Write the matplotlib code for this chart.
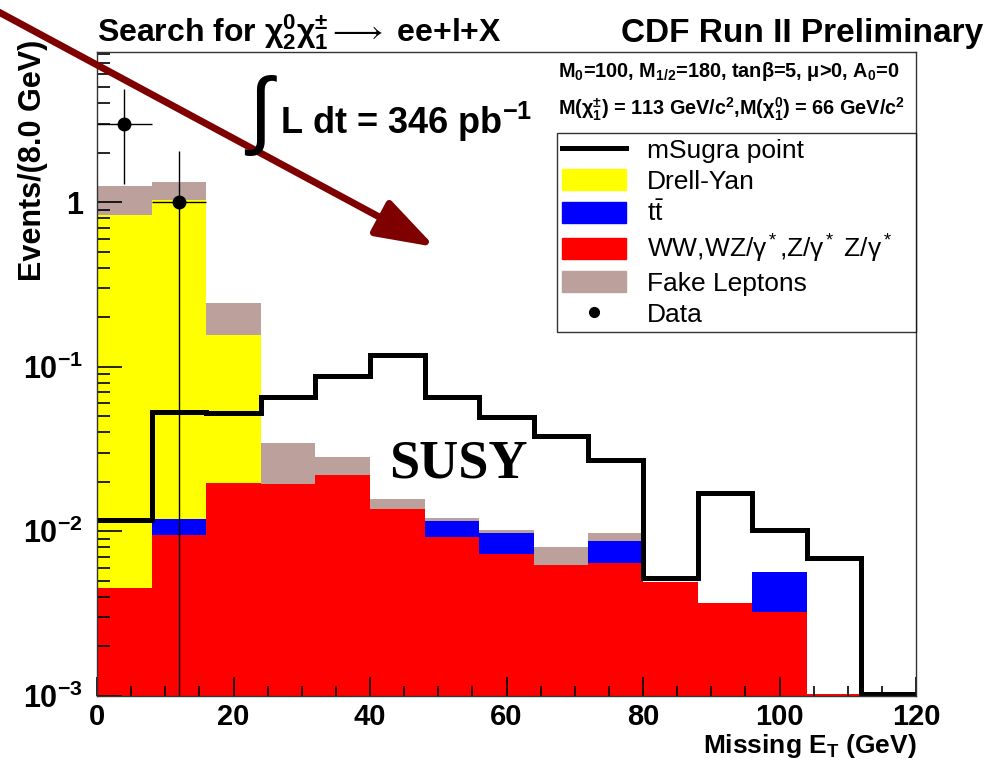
import numpy as np
import matplotlib
matplotlib.use("Agg")
import matplotlib.pyplot as plt
from matplotlib.lines import Line2D
from matplotlib.patches import Patch

plt.rcParams['font.family'] = ['Liberation Sans', 'DejaVu Sans']
plt.rcParams['mathtext.fontset'] = 'custom'
plt.rcParams['mathtext.rm'] = 'Liberation Sans'
plt.rcParams['mathtext.it'] = 'Liberation Serif:italic'
plt.rcParams['mathtext.bf'] = 'Liberation Sans:bold'
plt.rcParams['mathtext.default'] = 'regular'

# binning: 15 bins of 8 GeV
edges = np.arange(0, 121, 8)

# backgrounds (per bin, stacked bottom -> top)
ww_wz = [0.0045, 0.0095, 0.0197, 0.0193, 0.022, 0.0136, 0.0092, 0.0073,
         0.0062, 0.0064, 0.0049, 0.00365, 0.00323, 0.00102, 0]
ttbar = [0, 0.0023, 0, 0, 0, 0, 0.0024, 0.0025,
         0, 0.0023, 0, 0, 0.00244, 0, 0]
drell_yan = [0.8295, 1.018, 0.136, 0, 0, 0, 0, 0,
             0, 0, 0, 0, 0, 0, 0]
fake = [0.42, 0.30, 0.088, 0.0149, 0.0064, 0.0021, 0.0004, 0.0004,
        0.0018, 0.001, 0, 0, 0, 0, 0]

# signal
msugra = [0.0117, 0.0533, 0.0525, 0.0656, 0.088, 0.1176, 0.0656, 0.0496,
          0.038, 0.0271, 0.00518, 0.0171, 0.0102, 0.00684, 0.00102]

# data
data_x = [4, 12]
data_y = [3, 1]
data_err_lo = [1.71, 0.9999]
data_err_hi = [1.86, 1.04]

c_red = '#ff0000'
c_blue = '#0000ff'
c_yellow = '#ffff00'
c_fake = '#bca09c'

fig = plt.figure(figsize=(9.93, 7.63), dpi=100)
ax = fig.add_axes([0.0977, 0.0882, 0.8248, 0.8436])
ax.set_yscale('log')

# stack
s1 = np.array(ww_wz)
s2 = s1 + np.array(ttbar)
s3 = s2 + np.array(drell_yan)
s4 = s3 + np.array(fake)
for tops, col in [(s4, c_fake), (s3, c_yellow), (s2, c_blue), (s1, c_red)]:
    ax.stairs(tops, edges, fill=True, color=col, baseline=1e-5, lw=0)

ax.stairs(msugra, edges, baseline=None, color='black', lw=3.6)

ax.errorbar(data_x, data_y, yerr=[data_err_lo, data_err_hi], xerr=4,
            fmt='o', color='black', ms=9, elinewidth=1, capsize=0)

ax.set_xlim(0, 120)
ax.set_ylim(1e-3, 8.2)

# ticks, ROOT style
ax.set_xticks([0, 20, 40, 60, 80, 100, 120])
ax.set_xticks(np.arange(0, 121, 5), minor=True)
ax.set_yticks([1e-3, 1e-2, 1e-1, 1])
ax.set_yticklabels(['$10^{-3}$', '$10^{-2}$', '$10^{-1}$', '1'])
ax.tick_params(which='both', direction='in', top=False, right=False, width=1.2)
ax.tick_params(axis='x', which='major', length=14, pad=5, labelsize=21)
ax.tick_params(axis='x', which='minor', length=7)
ax.tick_params(axis='y', which='major', length=18, pad=10, labelsize=22)
ax.tick_params(axis='y', which='minor', length=9)
for lab in ax.get_xticklabels() + ax.get_yticklabels():
    lab.set_fontweight('bold')
for sp in ax.spines.values():
    sp.set_linewidth(1)
    sp.set_color('#333333')

# legend
handles = [Line2D([], [], color='black', lw=3.6),
           Patch(color=c_yellow), Patch(color=c_blue), Patch(color=c_red),
           Patch(color=c_fake),
           Line2D([], [], color='black', marker='o', ls='', ms=7)]
labels = ['mSugra point', 'Drell-Yan', r'$t\bar{t}$',
          r'WW,WZ/$\gamma^*$,Z/$\gamma^*$ Z/$\gamma^*$', 'Fake Leptons', 'Data']
leg = ax.legend(handles, labels, loc='upper left',
                bbox_to_anchor=(0.5617, 0.562, 0.4383, 0.312), mode='expand',
                borderaxespad=0, fontsize=19, handlelength=2.4, handleheight=0.85,
                labelspacing=0.24, handletextpad=0.8, borderpad=0.2,
                fancybox=False, frameon=True)
leg.get_frame().set_edgecolor('black')
leg.get_frame().set_linewidth(1)

# texts
fig.text(97/993, 1-42/763, r'Search for $\chi_2^0\chi_1^{\pm} \longrightarrow$ ee+l+X',
         fontsize=23, fontweight='bold', va='baseline', ha='left')
fig.text(983/993, 1-42/763, 'CDF Run II Preliminary',
         fontsize=24, fontweight='bold', va='baseline', ha='right')
fig.text(558/993, 1-77/763, r'M$_0$=100, M$_{1/2}$=180, tan$\beta$=5, $\mu$>0, A$_0$=0',
         fontsize=14.3, fontweight='bold', va='baseline', ha='left')
fig.text(558/993, 1-115/763,
         r'M($\chi_1^{\pm}$) = 113 GeV/c$^2$,M($\chi_1^0$) = 66 GeV/c$^2$',
         fontsize=14.3, fontweight='bold', va='baseline', ha='left')
fig.text(248/993, 1-116/763, '\u222b', fontsize=62, va='center', ha='left')
fig.text(280/993, 1-134/763, 'L dt = 346 pb$^{-1}$',
         fontsize=26, fontweight='bold', va='baseline', ha='left')
fig.text(389/993, 1-478/763, 'SUSY', family='Liberation Serif',
         fontsize=39, fontweight='bold', va='baseline', ha='left')
fig.text(917/993, 1-753/763, 'Missing E$_T$ (GeV)',
         fontsize=19, fontweight='bold', va='baseline', ha='right')
fig.text(33/993, 1-40/763, 'Events/(8.0 GeV)', rotation=90,
         fontsize=22, fontweight='bold', va='top', ha='center')

# arrow pointing at the signal region
ax.annotate('', xy=(435, 763-247), xycoords='figure pixels',
            xytext=(-5, 763-10), textcoords='figure pixels',
            arrowprops=dict(arrowstyle='-|>,head_length=3.6,head_width=1.2',
                            color='#7f0000', lw=5, shrinkA=0, shrinkB=0),
            annotation_clip=False)

plt.savefig('out.png', dpi=100)
